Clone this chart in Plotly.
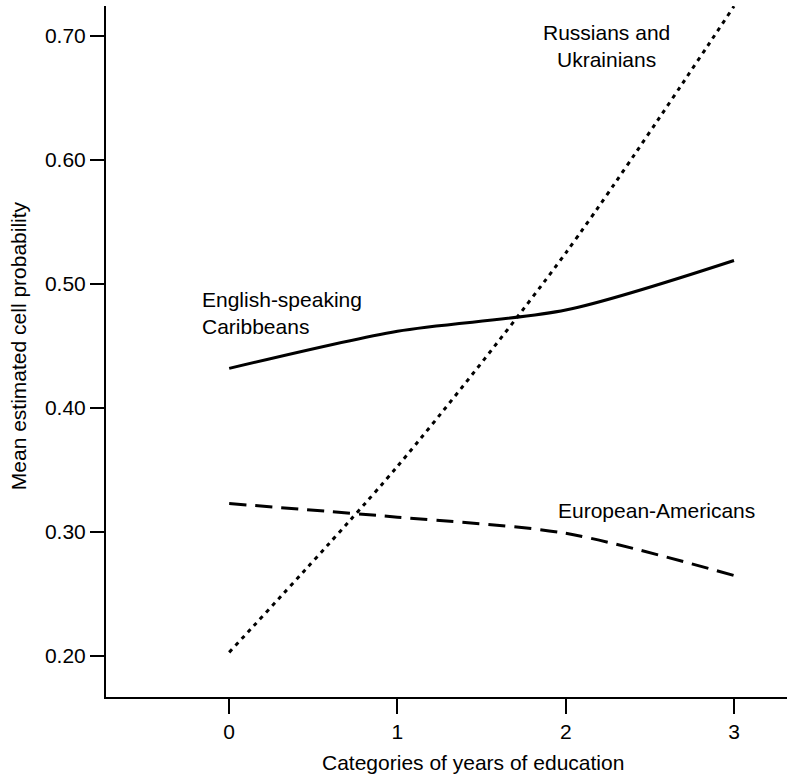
import plotly.graph_objects as go

education = [0, 1, 2, 3]
x_ticks = [0, 1, 2, 3]
y_ticks = [0.20, 0.30, 0.40, 0.50, 0.60, 0.70]

russians_ukrainians = [0.203, 0.353, 0.525, 0.724]
english_caribbeans = [0.432, 0.462, 0.479, 0.519]
european_americans = [0.323, 0.312, 0.299, 0.265]

FONT = "Liberation Sans, Arial, Helvetica, sans-serif"
FS = 21

fig = go.Figure()
fig.add_trace(go.Scatter(x=education, y=english_caribbeans, mode="lines",
                         line=dict(color="black", width=3, shape="spline", smoothing=0.8),
                         name="English-speaking Caribbeans"))
fig.add_trace(go.Scatter(x=education, y=european_americans, mode="lines",
                         line=dict(color="black", width=3, dash="17px,9px", shape="spline", smoothing=0.8),
                         name="European-Americans"))
fig.add_trace(go.Scatter(x=education, y=russians_ukrainians, mode="lines",
                         line=dict(color="black", width=3, dash="4px,5px", shape="spline", smoothing=0.8),
                         name="Russians and Ukrainians"))

ann_font = dict(family=FONT, size=FS, color="black")
fig.add_annotation(x=2.244, y=0.692, xref="x", yref="y", text="Russians and<br>Ukrainians",
                   showarrow=False, font=ann_font, align="center", xanchor="center", yanchor="middle")
fig.add_annotation(x=-0.173, y=0.4766, xref="x", yref="y", text="English-speaking<br>Caribbeans",
                   showarrow=False, font=ann_font, align="left", xanchor="left", yanchor="middle")
fig.add_annotation(x=2.54, y=0.317, xref="x", yref="y", text="European-Americans",
                   showarrow=False, font=ann_font, align="center", xanchor="center", yanchor="middle")
fig.add_annotation(x=1.45, y=-0.0955, xref="x", yref="paper", text="Categories of years of education",
                   showarrow=False, font=ann_font, xanchor="center", yanchor="middle")
fig.add_annotation(x=-0.129, y=0.45, xref="paper", yref="y", text="Mean estimated cell probability",
                   showarrow=False, font=ann_font, textangle=-90, xanchor="center", yanchor="middle")

fig.update_layout(
    width=787, height=774,
    margin=dict(l=106, r=0, t=6, b=77),
    plot_bgcolor="white", paper_bgcolor="white",
    showlegend=False,
    hovermode=False,
    font=dict(family=FONT, size=FS, color="black"),
)
fig.update_xaxes(range=[-0.732, 3.315], tickvals=x_ticks, ticktext=[str(v) for v in x_ticks],
                 showgrid=False, zeroline=False, showline=True, linecolor="black", linewidth=2,
                 ticks="outside", ticklen=15, tickwidth=2, tickcolor="black",
                 tickfont=dict(family=FONT, size=FS, color="black"))
fig.update_yaxes(range=[0.167, 0.7242], tickvals=y_ticks, tickformat=".2f",
                 showgrid=False, zeroline=False, showline=True, linecolor="black", linewidth=2,
                 ticks="outside", ticklen=14, tickwidth=2, tickcolor="black",
                 tickfont=dict(family=FONT, size=FS, color="black"))

fig.write_html("out.html", config={"displayModeBar": False},
               post_script="document.body.style.margin='0';document.body.style.padding='0';")
